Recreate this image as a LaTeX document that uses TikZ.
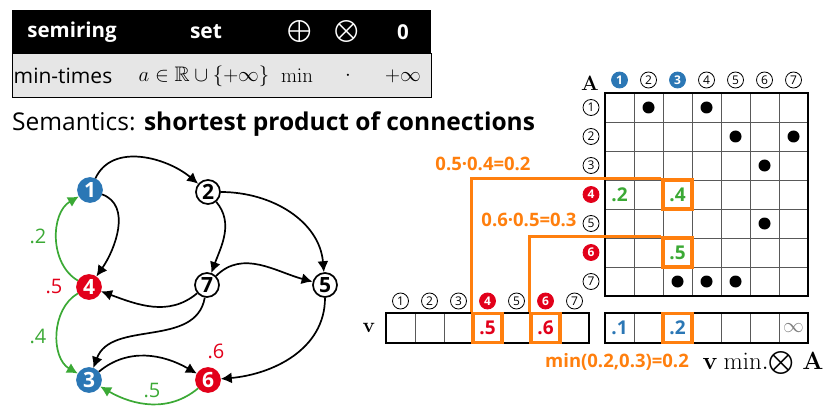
\documentclass[tikz,border=0pt]{standalone}
\usepackage{amsmath}
\usepackage{amssymb}
\usepackage[no-math]{fontspec}
\setmainfont{Open Sans}
\usetikzlibrary{arrows.meta,positioning}

\definecolor{nodeblue}{HTML}{2B77B5}
\definecolor{nodered}{HTML}{E2001A}
\definecolor{edgegreen}{HTML}{3BA935}
\definecolor{hlorange}{HTML}{FF7F0E}
\definecolor{rowgray}{HTML}{E6E6E6}

\begin{document}
\begin{tikzpicture}[
        x=1pt, y=-1pt,
        vertex/.style={circle, draw, line width=1.7pt, fill=white, minimum size=24pt, inner sep=0pt, font=\fontsize{21}{21}\selectfont\bfseries},
        bluevertex/.style={vertex, draw=nodeblue, fill=nodeblue, text=white},
        redvertex/.style={vertex, draw=nodered, fill=nodered, text=white},
        edge/.style={line width=1.7pt, -{Latex[length=11pt,width=11pt]}},
        greenedge/.style={edge, draw=edgegreen},
        weight/.style={font=\fontsize{20}{20}\selectfont},
        idx/.style={circle, draw, line width=0.8pt, minimum size=16pt, inner sep=0pt, font=\fontsize{12}{12}\selectfont},
        idxblue/.style={idx, draw=nodeblue, fill=nodeblue, text=white, font=\fontsize{12}{12}\selectfont\bfseries},
        idxred/.style={idx, draw=nodered, fill=nodered, text=white, font=\fontsize{12}{12}\selectfont\bfseries},
        cellval/.style={minimum width=29pt, minimum height=29pt, inner sep=0pt, font=\fontsize{19}{19}\selectfont\bfseries},
        hilite/.style={cellval, draw=hlorange, line width=3.2pt},
        link/.style={draw=hlorange, line width=3.2pt},
        calc/.style={text=hlorange, font=\fontsize{18.5}{18.5}\selectfont\bfseries},
        header/.style={text=white, font=\fontsize{20.5}{20.5}\selectfont\bfseries},
        rowtext/.style={font=\fontsize{21}{21}\selectfont}
    ]
        \useasboundingbox (0,0) rectangle (826,414);

        % Semiring table
        \fill[black] (12,10) rectangle (431,54);
        \filldraw[fill=rowgray, draw=black, line width=1pt] (12,54) rectangle (431,98);
        \node[header] (hsemiring) at (72,32) {semiring};
        \node[header, font=\fontsize{21}{21}\selectfont] (hset) at (206,32) {\textbf{set}};
        \node[header, font=\fontsize{22}{22}\selectfont] (hplus) at (300,32) {$\bigoplus$};
        \node[header, font=\fontsize{22}{22}\selectfont] (htimes) at (347,32) {$\bigotimes$};
        \node[header] (hzero) at (403,32) {0};
        \node[rowtext] (rname) at (63,76) {min-times};
        \node[rowtext] (rset) at (204,76) {$a \in \mathbb{R} \cup \{+\infty\}$};
        \node[rowtext] (rplus) at (297,76) {$\min$};
        \node[rowtext] (rtimes) at (348,76) {$\cdot$};
        \node[rowtext] (rzero) at (403,76) {$+\infty$};

        % Title
        \node[anchor=west, inner sep=0pt, font=\fontsize{24.5}{24.5}\selectfont] (title) at (12,124) {Semantics: \textbf{shortest product of connections}};

        % Graph
        \node[bluevertex] (n1) at (90,190) {1};
        \node[vertex] (n2) at (208,192) {2};
        \node[bluevertex] (n3) at (89,380) {3};
        \node[redvertex] (n4) at (89,287) {4};
        \node[vertex] (n5) at (325,285) {5};
        \node[redvertex] (n6) at (208,380) {6};
        \node[vertex] (n7) at (207,285) {7};

        \draw[edge] (n1) to[out=65, in=140] (n2);
        \draw[edge] (n1) to[out=-20, in=55] (n4);
        \draw[edge] (n2) to[out=-50, in=70] (n7);
        \draw[edge] (n2) to[out=0, in=95] (n5);
        \draw[edge] (n7) to[out=45, in=165] (n5);
        \draw[edge] (n7) to[out=-140, in=-20] (n4);
        \draw[edge] (n7) to[out=-100, in=70] (n3);
        \draw[edge] (n5) to[out=-90, in=5] (n6);
        \draw[edge] (n3) to[out=40, in=150] (n6);
        \draw[greenedge] (n4) to[out=150, in=-150] (n1);
        \draw[greenedge] (n4) to[out=-150, in=150] (n3);
        \draw[greenedge] (n6) to[out=-140, in=-30] (n3);

        \node[weight, text=edgegreen] (w41) at (38,236) {.2};
        \node[weight, text=nodered] (w4) at (54,287) {.5};
        \node[weight, text=edgegreen] (w43) at (38,336) {.4};
        \node[weight, text=nodered] (w6) at (216,351) {.6};
        \node[weight, text=edgegreen] (w63) at (152,390) {.5};

        % Matrix A
        \draw[black!65, line width=0.8pt] \foreach \i in {1,...,6} {({605+29*\i},93) -- ({605+29*\i},296) (605,{93+29*\i}) -- (808,{93+29*\i})};
        \draw[line width=2.2pt] (605,93) rectangle (808,296);
        \node[font=\fontsize{21}{21}\selectfont] (Alabel) at (590,83) {$\mathbf{A}$};
        \foreach \c/\s in {1/idxblue,2/idx,3/idxblue,4/idx,5/idx,6/idx,7/idx}
            \node[\s] (colA\c) at ({590.5+29*\c},80) {\c};
        \foreach \r/\s in {1/idx,2/idx,3/idx,4/idxred,5/idx,6/idxred,7/idx}
            \node[\s] (rowA\r) at (591,{78.5+29*\r}) {\r};
        \foreach \r/\c in {1/2,1/4,2/5,2/7,3/6,5/6,7/3,7/4,7/5}
            \fill ({590.5+29*\c},{78.5+29*\r}) circle (6pt);
        \node[cellval, text=edgegreen] (a41) at (619.5,194.5) {.2};
        \node[hilite, text=edgegreen] (a43) at (677.5,194.5) {.4};
        \node[hilite, text=edgegreen] (a63) at (677.5,252.5) {.5};

        % Vector v
        \draw[black!65, line width=0.8pt] \foreach \i in {1,...,6} {({386+29*\i},313) -- ({386+29*\i},343)};
        \draw[line width=2.2pt] (386,313) rectangle (589,343);
        \node[font=\fontsize{21}{21}\selectfont] (vlabel) at (369,328) {$\mathbf{v}$};
        \foreach \c/\s in {1/idx,2/idx,3/idx,4/idxred,5/idx,6/idxred,7/idx}
            \node[\s] (colv\c) at ({371.5+29*\c},301) {\c};
        \node[hilite, text=nodered] (v4) at (487.5,328) {.5};
        \node[hilite, text=nodered] (v6) at (545.5,328) {.6};

        % Result vector
        \draw[black!65, line width=0.8pt] \foreach \i in {1,...,6} {({605+29*\i},313) -- ({605+29*\i},343)};
        \draw[line width=2.2pt] (605,313) rectangle (808,343);
        \node[cellval, text=nodeblue] (r1) at (619.5,328) {.1};
        \node[hilite, text=nodeblue] (r3) at (677.5,328) {.2};
        \node[inner sep=0pt, text=gray, font=\fontsize{20}{20}\selectfont] (r7) at (793.5,328) {$\infty$};

        % Products and minimum
        \draw[link] (v4.north west) |- (a43.north west);
        \draw[link] (v6.north west) |- (a63.north west);
        \node[calc] (prod4) at (483,164) {0.5·0.4=0.2};
        \node[calc] (prod6) at (529,220) {0.6·0.5=0.3};
        \node[calc] (minres) at (617,362) {min(0.2,0.3)=0.2};
        \node[inner sep=0pt, font=\fontsize{23}{23}\selectfont] (oplabel) at (763,363) {$\mathbf{v}\ \mathrm{min}.\!\bigotimes\,\mathbf{A}$};
    \end{tikzpicture}
\end{document}
